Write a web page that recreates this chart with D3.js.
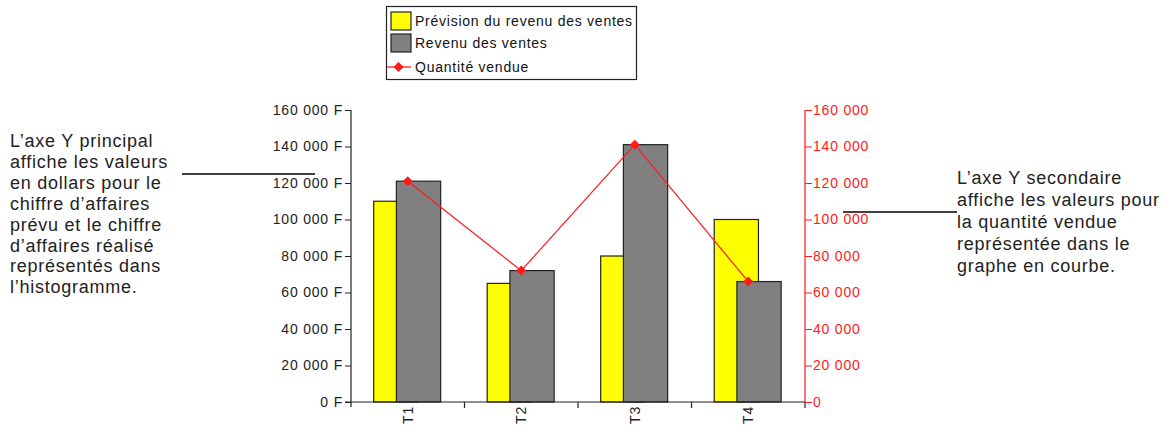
<!DOCTYPE html>
<html lang="fr">
<head>
<meta charset="utf-8">
<script src="https://cdn.jsdelivr.net/npm/d3@7"></script>
<style>
  html, body { margin: 0; padding: 0; background: #fff; }
  svg { display: block; }
  .tick text { font-family: "Liberation Sans", Arial, sans-serif; font-size: 14px; letter-spacing: 0.8px; }
  .note { font-family: "Liberation Sans", Arial, sans-serif; font-size: 18px; fill: #222; letter-spacing: 0.75px; }
  .legend text { font-family: "Liberation Sans", Arial, sans-serif; font-size: 14px; fill: #111; letter-spacing: 0.75px; }
</style>
</head>
<body>
<svg id="chart" width="1174" height="431"></svg>
<script>
// Quarterly data
const categories = ["T1", "T2", "T3", "T4"];
const forecastRevenue = [110000, 65000, 80000, 100000];   // Prévision du revenu des ventes
const actualRevenue   = [121000, 72000, 141000, 66000];   // Revenu des ventes
const quantitySold    = [121000, 72000, 141000, 66000];   // Quantité vendue
const leftTicks  = [0, 20000, 40000, 60000, 80000, 100000, 120000, 140000, 160000];
const rightTicks = [0, 20000, 40000, 60000, 80000, 100000, 120000, 140000, 160000];
const seriesNames = ["Prévision du revenu des ventes", "Revenu des ventes", "Quantité vendue"];
const leftNote  = ["L’axe Y principal", "affiche les valeurs", "en dollars pour le", "chiffre d’affaires",
                   "prévu et le chiffre", "d’affaires réalisé", "représentés dans", "l’histogramme."];
const rightNote = ["L’axe Y secondaire", "affiche les valeurs pour", "la quantité vendue",
                   "représentée dans le", "graphe en courbe."];

const svg = d3.select("#chart");
const plot = { left: 351, right: 805, top: 110, bottom: 402 };
const RED = "#ff1a1a";

const fr = d3.formatLocale({ decimal: ",", thousands: "\u00a0", grouping: [3], currency: ["", "\u00a0F"] });
const fmtMoney = fr.format("$,");
const fmtNum = fr.format(",");

const x = d3.scaleBand().domain(categories).range([plot.left, plot.right]);
const yL = d3.scaleLinear().domain([0, 160000]).range([plot.bottom, plot.top]);
const yR = d3.scaleLinear().domain([0, 160000]).range([plot.bottom, plot.top]);

const bw = x.bandwidth();
const barW = bw * 0.39;
const shift = bw * 0.2;
const cx = c => x(c) + bw / 2;
const barStart = c => cx(c) - bw * 0.3;

// Bars: forecast behind, actual in front, overlapping
svg.append("g").selectAll("rect").data(categories).join("rect")
  .attr("x", c => barStart(c))
  .attr("width", barW)
  .attr("y", (c, i) => yL(forecastRevenue[i]))
  .attr("height", (c, i) => yL(0) - yL(forecastRevenue[i]))
  .attr("fill", "#ffff00").attr("stroke", "#222").attr("stroke-width", 1.2);

svg.append("g").selectAll("rect").data(categories).join("rect")
  .attr("x", c => barStart(c) + shift)
  .attr("width", barW)
  .attr("y", (c, i) => yL(actualRevenue[i]))
  .attr("height", (c, i) => yL(0) - yL(actualRevenue[i]))
  .attr("fill", "#808080").attr("stroke", "#222").attr("stroke-width", 1.2);

// Left axis
const gL = svg.append("g").attr("transform", `translate(${plot.left},0)`)
  .call(d3.axisLeft(yL).tickValues(leftTicks).tickFormat(fmtMoney).tickSize(6).tickSizeOuter(0).tickPadding(2));
gL.select(".domain").remove();
gL.selectAll(".tick line").attr("stroke", "#222");
gL.selectAll(".tick text").attr("fill", "#222");
svg.append("line").attr("x1", plot.left).attr("x2", plot.left)
  .attr("y1", plot.top).attr("y2", plot.bottom + 5).attr("stroke", "#222").attr("stroke-width", 1.2);

// Right axis
const gR = svg.append("g").attr("transform", `translate(${plot.right},0)`)
  .call(d3.axisRight(yR).tickValues(rightTicks).tickFormat(fmtNum).tickSize(7).tickSizeOuter(0).tickPadding(1));
gR.select(".domain").remove();
gR.selectAll(".tick line").attr("stroke", RED);
gR.selectAll(".tick text").attr("fill", RED);
svg.append("line").attr("x1", plot.right).attr("x2", plot.right)
  .attr("y1", plot.top).attr("y2", plot.bottom).attr("stroke", RED).attr("stroke-width", 1.2);

// Category axis
svg.append("line").attr("x1", plot.left - 6).attr("x2", plot.right)
  .attr("y1", plot.bottom).attr("y2", plot.bottom).attr("stroke", "#222").attr("stroke-width", 1.2);
const bounds = categories.slice(1).map(c => x(c)).concat([plot.right]);
svg.append("g").selectAll("line").data(bounds).join("line")
  .attr("x1", d => d).attr("x2", d => d)
  .attr("y1", plot.bottom).attr("y2", plot.bottom + 6)
  .attr("stroke", "#222").attr("stroke-width", 1.2);
svg.append("g").selectAll("text").data(categories).join("text")
  .attr("transform", c => `translate(${cx(c) + 5},${plot.bottom + 4}) rotate(-90)`)
  .attr("text-anchor", "end")
  .style("font-family", "'Liberation Sans', Arial, sans-serif").style("font-size", "14px")
  .style("letter-spacing", "0.8px").attr("fill", "#222")
  .text(c => c);

// Quantity line on the secondary axis
const line = d3.line().x((d, i) => cx(categories[i])).y(d => yR(d));
svg.append("path").datum(quantitySold).attr("d", line)
  .attr("fill", "none").attr("stroke", RED).attr("stroke-width", 1.2);
const marker = "M0,-5L5,0L0,5L-5,0Z";
svg.append("g").selectAll("path").data(quantitySold).join("path")
  .attr("d", marker)
  .attr("transform", (d, i) => `translate(${cx(categories[i])},${yR(d)})`)
  .attr("fill", RED);

// Legend
const lg = svg.append("g").attr("class", "legend");
lg.append("rect").attr("x", 386.5).attr("y", 6.5).attr("width", 250).attr("height", 73)
  .attr("fill", "#fff").attr("stroke", "#222").attr("stroke-width", 1.2);
const swatchFill = ["#ffff00", "#808080"];
const rowY = [21, 43, 67];
swatchFill.forEach((f, i) => {
  lg.append("rect").attr("x", 391).attr("y", rowY[i] - 9).attr("width", 20).attr("height", 18)
    .attr("fill", f).attr("stroke", "#222").attr("stroke-width", 1.2);
});
lg.append("line").attr("x1", 387).attr("x2", 411).attr("y1", rowY[2]).attr("y2", rowY[2])
  .attr("stroke", RED).attr("stroke-width", 1.3);
lg.append("path").attr("d", marker).attr("transform", `translate(398.5,${rowY[2]})`).attr("fill", RED);
seriesNames.forEach((name, i) => {
  lg.append("text").attr("x", 415).attr("y", rowY[i] + 5).text(name);
});

// Explanatory notes
const ln = svg.append("text").attr("class", "note");
leftNote.forEach((t, i) => ln.append("tspan").attr("x", 10).attr("y", 147 + i * 20.9).text(t));
svg.append("line").attr("x1", 182).attr("x2", 315).attr("y1", 174).attr("y2", 174)
  .attr("stroke", "#000").attr("stroke-width", 1.5);

const rn = svg.append("text").attr("class", "note");
rightNote.forEach((t, i) => rn.append("tspan").attr("x", 957).attr("y", 184 + i * 22).text(t));
svg.append("line").attr("x1", 843).attr("x2", 957).attr("y1", 212).attr("y2", 212)
  .attr("stroke", "#000").attr("stroke-width", 1.5);
</script>
</body>
</html>
